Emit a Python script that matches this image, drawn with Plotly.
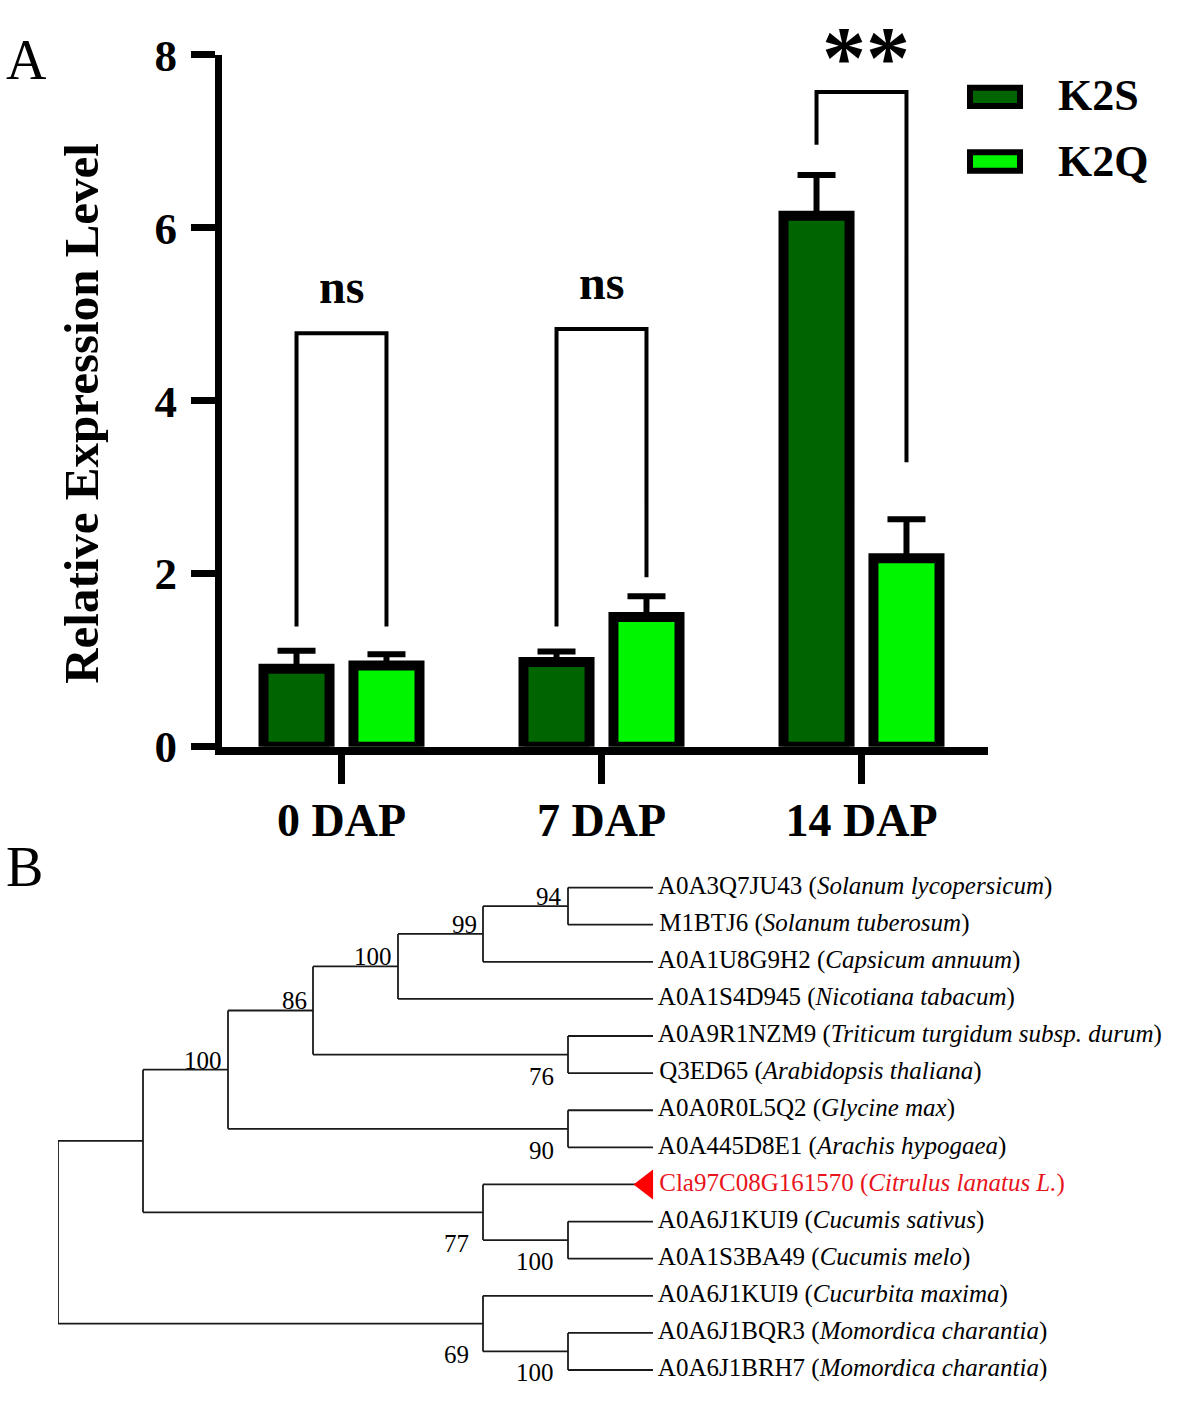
import plotly.graph_objects as go

# --- Panel A: relative expression ---
STAGES = ["0 DAP", "7 DAP", "14 DAP"]
K2S_MEAN = [0.90, 0.98, 6.14]
K2S_ERR = [0.21, 0.12, 0.47]
K2Q_MEAN = [0.94, 1.50, 2.18]
K2Q_ERR = [0.13, 0.24, 0.45]
Y_TICKS = [0, 2, 4, 6, 8]

# significance brackets (value units)
SIG_LABELS = ["ns", "ns", "**"]
BRACKET_TOP = [4.78, 4.83, 7.57]
BRACKET_LEFT_END = [1.39, 1.39, 6.96]
BRACKET_RIGHT_END = [1.39, 1.96, 3.29]

# --- Panel B: phylogenetic tree ---
LEAF_IDS = [
    "A0A3Q7JU43", "M1BTJ6", "A0A1U8G9H2", "A0A1S4D945", "A0A9R1NZM9",
    "Q3ED65", "A0A0R0L5Q2", "A0A445D8E1", "Cla97C08G161570", "A0A6J1KUI9",
    "A0A1S3BA49", "A0A6J1KUI9", "A0A6J1BQR3", "A0A6J1BRH7",
]
LEAF_SPECIES = [
    "Solanum lycopersicum", "Solanum tuberosum", "Capsicum annuum",
    "Nicotiana tabacum", "Triticum turgidum subsp. durum", "Arabidopsis thaliana",
    "Glycine max", "Arachis hypogaea", "Citrulus lanatus L.", "Cucumis sativus",
    "Cucumis melo", "Cucurbita maxima", "Momordica charantia", "Momordica charantia",
]
HIGHLIGHT_LEAF = 8
LEAF_DEPTH = 7

NODE_NAMES = ["root", "n1", "n2", "n3", "n4", "n5", "n6", "n7", "n8", "n9", "n10", "n12", "n13"]
NODE_DEPTH = [0, 1, 2, 3, 4, 5, 6, 6, 6, 5, 6, 5, 6]
NODE_CHILDREN = [
    ["n1", "n12"], ["n2", "n9"], ["n3", "n8"], ["n4", "n7"], ["n5", 3],
    ["n6", 2], [0, 1], [4, 5], [6, 7], [8, "n10"], [9, 10], [11, "n13"], [12, 13],
]
NODE_SUPPORT = [None, None, 100, 86, 100, 99, 94, 76, 90, 77, 100, 69, 100]
SUPPORT_SIDE = [None, None, "above", "above", "above", "above", "above",
                "below", "below", "below", "below", "below", "below"]

W, H = 1181, 1424
K2S_COLOR = "#006400"
K2Q_COLOR = "#00f500"
SERIF = "Liberation Serif"


def px_x(p):
    return p / W


def px_y(p):
    return 1 - p / H


fig = go.Figure()

# ---------------- Panel A ----------------
x_idx = list(range(len(STAGES)))
for name, mean, err, color in [
    ("K2S", K2S_MEAN, K2S_ERR, K2S_COLOR),
    ("K2Q", K2Q_MEAN, K2Q_ERR, K2Q_COLOR),
]:
    fig.add_trace(
        go.Bar(
            x=x_idx,
            y=mean,
            name=name,
            marker=dict(color=color, line=dict(color="black", width=10)),
            error_y=dict(
                type="data", array=err, arrayminus=[0] * len(err), symmetric=False,
                color="black", thickness=6, width=19,
            ),
            showlegend=False,
            xaxis="x", yaxis="y",
        )
    )

# brackets
off = 0.173
bx, by = [], []
for g in x_idx:
    bx += [g - off, g - off, g + off, g + off, None]
    by += [BRACKET_LEFT_END[g], BRACKET_TOP[g], BRACKET_TOP[g], BRACKET_RIGHT_END[g], None]
fig.add_trace(
    go.Scatter(
        x=bx, y=by, mode="lines", line=dict(color="black", width=4),
        cliponaxis=False, showlegend=False, hoverinfo="skip", xaxis="x", yaxis="y",
    )
)

for g, lab in zip(x_idx, SIG_LABELS):
    star = lab != "ns"
    fig.add_annotation(
        x=g, y=BRACKET_TOP[g], xref="x", yref="y", text=lab, showarrow=False,
        xanchor="center", yanchor="bottom",
        yshift=-16 if star else 18, xshift=4 if star else 0,
        font=dict(family=SERIF, size=88 if star else 48, color="black", weight="bold"),
    )

# legend (drawn by hand to get the large swatches)
for i, (name, color) in enumerate([("K2S", K2S_COLOR), ("K2Q", K2Q_COLOR)]):
    top = 66 + i * 67
    fig.add_shape(
        type="rect", xref="paper", yref="paper",
        x0=px_x(970), x1=px_x(1020), y0=px_y(top), y1=px_y(top + 19),
        fillcolor=color, line=dict(color="black", width=6),
    )
    fig.add_annotation(
        x=px_x(1056), y=px_y(74 + i * 68), xref="paper", yref="paper", text=name,
        showarrow=False, xanchor="left", yanchor="middle",
        font=dict(family=SERIF, size=44, color="black", weight="bold"),
    )

fig.add_annotation(
    x=px_x(81.5), y=px_y(403.5), xref="paper", yref="paper",
    text="Relative Expression Level", textangle=-90, showarrow=False,
    xanchor="center", yanchor="middle",
    font=dict(family=SERIF, size=49, color="black", weight="bold"),
)

# ---------------- Panel B ----------------
# leaf / node coordinates
pos_y = {i: float(i) for i in range(len(LEAF_IDS))}
pos_x = {i: LEAF_DEPTH for i in range(len(LEAF_IDS))}
node_idx = {n: k for k, n in enumerate(NODE_NAMES)}


def place(n):
    k = node_idx[n]
    ys = []
    for c in NODE_CHILDREN[k]:
        if isinstance(c, str):
            place(c)
        ys.append(pos_y[c])
    pos_y[n] = sum(ys) / len(ys)
    pos_x[n] = NODE_DEPTH[k]


place("root")

tx, ty = [], []
for k, n in enumerate(NODE_NAMES):
    kids = NODE_CHILDREN[k]
    cy = [pos_y[c] for c in kids]
    tx += [pos_x[n], pos_x[n], None]
    ty += [min(cy), max(cy), None]
    for c in kids:
        tx += [pos_x[n], pos_x[c], None]
        ty += [pos_y[c], pos_y[c], None]

fig.add_trace(
    go.Scatter(
        x=tx, y=ty, mode="lines", line=dict(color="#1a1a1a", width=1.8),
        showlegend=False, hoverinfo="skip", xaxis="x2", yaxis="y2",
    )
)

leaf_text = [f" {a} (<i>{s}</i>)" for a, s in zip(LEAF_IDS, LEAF_SPECIES)]
leaf_color = ["#e8141c" if i == HIGHLIGHT_LEAF else "black" for i in range(len(LEAF_IDS))]
fig.add_trace(
    go.Scatter(
        x=[LEAF_DEPTH] * len(LEAF_IDS), y=list(range(len(LEAF_IDS))),
        mode="text", text=leaf_text, textposition="middle right",
        textfont=dict(family=SERIF, size=25, color=leaf_color),
        cliponaxis=False, showlegend=False, hoverinfo="skip", xaxis="x2", yaxis="y2",
    )
)
fig.add_trace(
    go.Scatter(
        x=[LEAF_DEPTH - 0.076], y=[HIGHLIGHT_LEAF], mode="markers",
        marker=dict(symbol="triangle-left", size=26, color="#ff0000"),
        cliponaxis=False, showlegend=False, hoverinfo="skip", xaxis="x2", yaxis="y2",
    )
)

for k, n in enumerate(NODE_NAMES):
    if NODE_SUPPORT[k] is None:
        continue
    if SUPPORT_SIDE[k] == "above":
        fig.add_annotation(
            x=pos_x[n] - 0.05, y=pos_y[n], xref="x2", yref="y2",
            text=str(NODE_SUPPORT[k]), showarrow=False,
            xanchor="right", yanchor="bottom", yshift=-6,
            font=dict(family=SERIF, size=25, color="black"),
        )
    else:
        low = max(pos_y[c] for c in NODE_CHILDREN[k])
        fig.add_annotation(
            x=pos_x[n] - 0.147, y=low, xref="x2", yref="y2",
            text=str(NODE_SUPPORT[k]), showarrow=False,
            xanchor="right", yanchor="middle", yshift=-3,
            font=dict(family=SERIF, size=25, color="black"),
        )

# panel letters
for lab, top in [("A", 3), ("B", 839)]:
    fig.add_annotation(
        x=px_x(4), y=px_y(top), xref="paper", yref="paper", text=lab,
        showarrow=False, xanchor="left", yanchor="top",
        font=dict(family=SERIF, size=56, color="black"),
    )

fig.update_layout(
    width=W,
    height=H,
    margin=dict(l=0, r=0, t=0, b=0),
    paper_bgcolor="white",
    plot_bgcolor="white",
    barmode="group",
    bargap=0.308,
    bargroupgap=0.266,
    xaxis=dict(
        domain=[px_x(222), px_x(988)], range=[(222 - 341.5) / 260, (988 - 341.5) / 260],
        tickvals=x_idx, ticktext=STAGES, ticks="outside", ticklen=29, tickwidth=7,
        tickcolor="black", showline=True, linecolor="black", linewidth=8,
        showgrid=False, zeroline=False, ticklabelstandoff=-3,
        tickfont=dict(family=SERIF, size=46, color="black", weight="bold"),
        anchor="y",
    ),
    yaxis=dict(
        domain=[px_y(749), px_y(32)], range=[0, 8],
        tickvals=Y_TICKS, ticks="outside", ticklen=24, tickwidth=7,
        tickcolor="black", showline=True, linecolor="black", linewidth=7,
        showgrid=False, zeroline=False, ticklabelstandoff=5,
        tickfont=dict(family=SERIF, size=45, color="black", weight="bold"),
        anchor="x",
    ),
    xaxis2=dict(
        domain=[px_x(58), px_x(653)], range=[0, LEAF_DEPTH], visible=False,
        anchor="y2",
    ),
    yaxis2=dict(
        domain=[px_y(895 + 13.5 * 38.46), px_y(895 - 0.5 * 38.46)], range=[13.5, -0.5],
        visible=False, anchor="x2",
    ),
)

fig.write_html(
    "out.html",
    config={"displayModeBar": False},
    post_script="document.body.style.margin='0';",
)
